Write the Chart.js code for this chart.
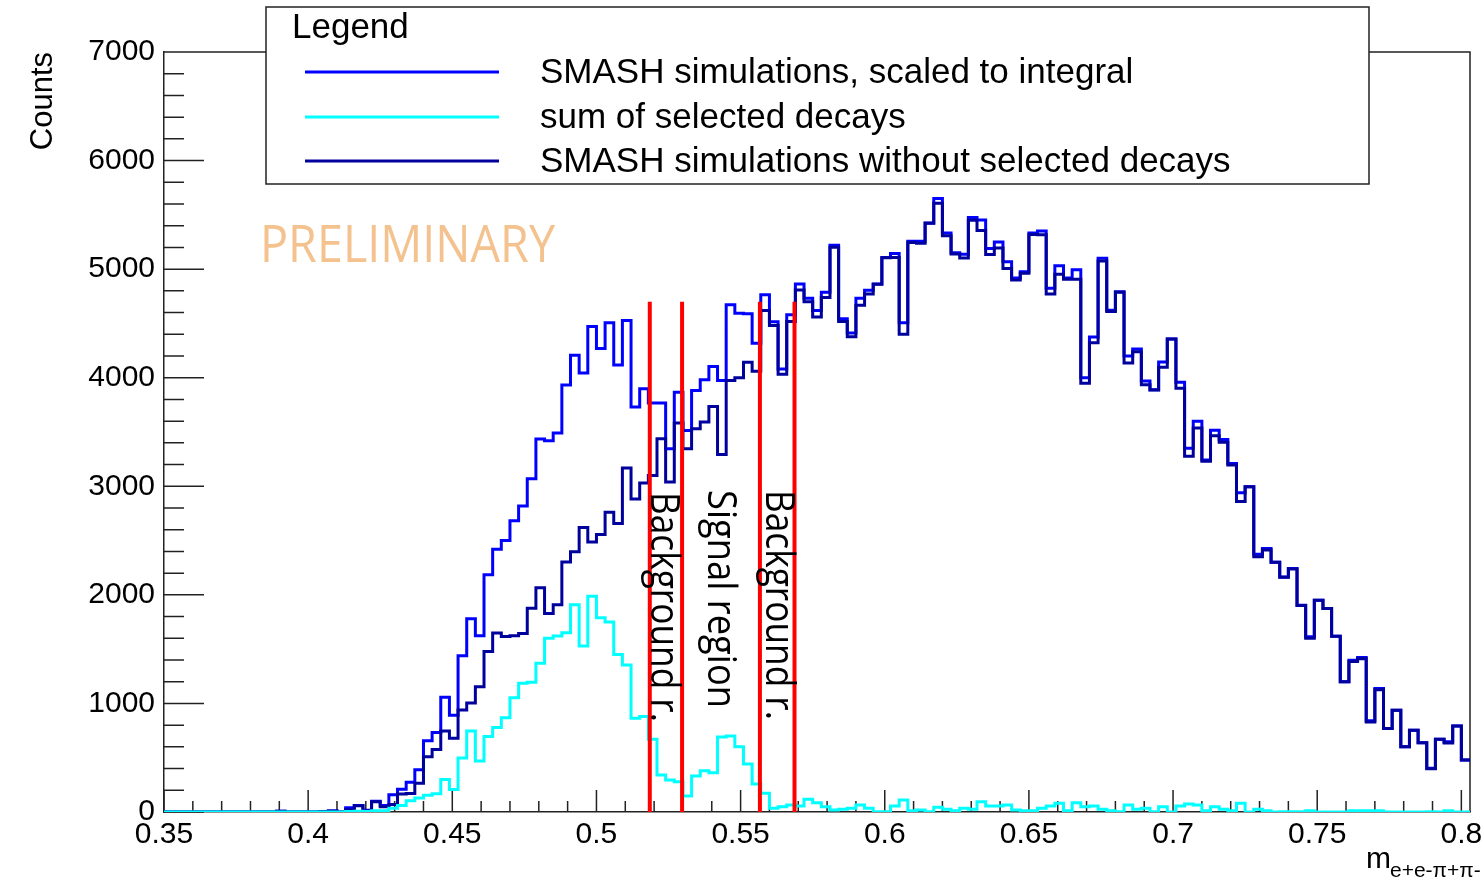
<!DOCTYPE html>
<html>
<head>
<meta charset="utf-8">
<title>SMASH invariant mass e+e-pi+pi-</title>
<script src="https://cdn.jsdelivr.net/npm/chart.js@4.4.0/dist/chart.umd.min.js"></script>
<style>
  html, body { margin: 0; padding: 0; background: #fff; }
  canvas { display: block; }
</style>
</head>
<body>
<canvas id="mass-hist" width="1482" height="879"></canvas>
<script>
// binning of the histogram: 151 bins of 0.003 from 0.35
const binLow = 0.35;
const binWidth = 0.003;

// SMASH simulations, scaled to integral
const smashScaled = [
  0, 0, 0, 0, 0, 0, 0, 0, 0, 0,
  0, 0, 0, 8, 0, 0, 0, 0, 5, 9,
  0, 40, 60, 15, 100, 60, 160, 210, 275, 388,
  657, 733, 1056, 890, 1439, 1781, 1623, 2186, 2420, 2500,
  2683, 2819, 3069, 3436, 3420, 3490, 3933, 4208, 4044, 4471,
  4268, 4507, 4118, 4527, 3731, 3898, 3766, 3766, 3346, 3867,
  3514, 3882, 3981, 4103, 3974, 4673, 4594, 4588, 4318, 4765,
  4515, 4080, 4581, 4863, 4731, 4619, 4788, 5219, 4543, 4412,
  4731, 4806, 4863, 5107, 5144, 4506, 5257, 5257, 5426, 5651,
  5332, 5152, 5137, 5475, 5452, 5189, 5249, 5069, 4919, 4975,
  5332, 5351, 4825, 5032, 4919, 4994, 3999, 4376, 5100, 4621,
  4791, 4200, 4264, 3970, 3890, 4145, 4356, 3958, 3350, 3600,
  3243, 3515, 3430, 3209, 2940, 2995, 2375, 2426, 2300, 2165,
  2242, 1904, 1613, 1950, 1874, 1619, 1199, 1398, 1423, 840,
  1138, 770, 938, 601, 754, 638, 402, 669, 647, 791,
  478
];

// sum of selected decays
const selectedDecays = [
  0, 0, 0, 0, 0, 0, 0, 0, 0, 0,
  0, 0, 0, 0, 0, 0, 0, 0, 0, 0,
  0, 5, 8, 5, 12, 12, 34, 60, 104, 130,
  154, 167, 300, 208, 497, 746, 469, 695, 778, 868,
  1053, 1185, 1196, 1370, 1600, 1620, 1650, 1908, 1528, 1987,
  1790, 1750, 1450, 1354, 864, 880, 670, 340, 294, 279,
  147, 331, 380, 362, 690, 700, 600, 441, 257, 172,
  34, 49, 64, 55, 117, 86, 49, 18, 25, 34,
  64, 34, 3, 3, 55, 110, 12, 18, 3, 43,
  25, 12, 34, 25, 95, 55, 55, 64, 18, 12,
  12, 34, 55, 80, 12, 86, 49, 55, 25, 12,
  3, 64, 25, 34, 3, 49, 0, 55, 74, 64,
  12, 49, 25, 12, 80, 0, 25, 12, 0, 3,
  3, 3, 12, 0, 0, 0, 0, 12, 12, 12,
  12, 0, 0, 0, 0, 0, 3, 0, 12, 0,
  0
];

// SMASH simulations without selected decays
const smashWithout = [
  0, 0, 0, 0, 0, 0, 0, 0, 0, 0,
  0, 0, 0, 8, 0, 0, 0, 0, 5, 9,
  0, 20, 58, 10, 95, 49, 70, 165, 170, 265,
  510, 575, 746, 680, 940, 1003, 1154, 1478, 1648, 1617,
  1623, 1645, 1876, 2066, 1829, 1908, 2303, 2398, 2620, 2487,
  2557, 2762, 2658, 3168, 2884, 3030, 3100, 3438, 3039, 3582,
  3346, 3529, 3591, 3735, 3293, 3974, 3999, 4143, 4060, 4620,
  4481, 4031, 4517, 4808, 4700, 4560, 4739, 5201, 4518, 4378,
  4667, 4772, 4860, 5104, 5107, 4400, 5245, 5239, 5423, 5608,
  5307, 5140, 5103, 5450, 5357, 5134, 5194, 5005, 4901, 4963,
  5320, 5317, 4770, 4952, 4907, 4908, 3950, 4321, 5075, 4609,
  4788, 4136, 4239, 3936, 3887, 4096, 4356, 3903, 3276, 3536,
  3231, 3466, 3405, 3197, 2860, 2995, 2350, 2414, 2300, 2162,
  2239, 1901, 1601, 1950, 1874, 1619, 1199, 1386, 1411, 828,
  1126, 770, 938, 601, 754, 638, 399, 669, 635, 791,
  478
];

// region borders (red lines) and their labels
const regionEdges = [0.5185, 0.5297, 0.5567, 0.5687];
const regionTop = 4700;
const regionLabels = ['Background r.', 'Signal region', 'Background r.'];

const xTickLabels = [0.35, 0.4, 0.45, 0.5, 0.55, 0.6, 0.65, 0.7, 0.75, 0.8];
const yTickLabels = [0, 1000, 2000, 3000, 4000, 5000, 6000, 7000];

const rootFont = '"Liberation Sans", Arial, sans-serif';
const slideFont = '"Open Sans", Lato, sans-serif';

// turn bin contents into step points at the bin low edges (+ closing point)
const toSteps = (values) => {
  const pts = values.map((v, i) => ({ x: binLow + i * binWidth, y: v }));
  pts.push({ x: binLow + values.length * binWidth, y: values[values.length - 1] });
  return pts;
};

const histDataset = (label, values, color, order) => ({
  label: label,
  data: toSteps(values),
  borderColor: color,
  backgroundColor: color,
  borderWidth: 3,
  stepped: 'before',
  pointRadius: 0,
  fill: false,
  order: order
});

const regionDatasets = regionEdges.map((x) => ({
  label: 'region',
  data: [{ x: x, y: 0 }, { x: x, y: regionTop }],
  borderColor: '#ff0000',
  borderWidth: 4,
  pointRadius: 0,
  fill: false,
  order: 0
}));

const histDatasets = [
  histDataset('SMASH simulations, scaled to integral', smashScaled, '#0000ff', 3),
  histDataset('sum of selected decays', selectedDecays, '#00ffff', 1),
  histDataset('SMASH simulations without selected decays', smashWithout, '#00009c', 2)
];

// draw text squeezed to a given length (slide fonts are narrower)
const fitText = (ctx, text, x, y, length, angle) => {
  ctx.save();
  ctx.translate(x, y);
  ctx.rotate(angle);
  const w = ctx.measureText(text).width;
  ctx.scale(length / w, 1);
  ctx.fillText(text, 0, 0);
  ctx.restore();
};

// ROOT style frame, inward ticks, legend box and annotations
const rootFrame = {
  id: 'rootFrame',
  beforeDatasetsDraw(chart) {
    const { ctx, chartArea: a, scales: { x, y } } = chart;
    ctx.save();
    ctx.strokeStyle = '#222';
    ctx.lineWidth = 1.5;
    ctx.beginPath();
    ctx.moveTo(a.left, a.top);
    ctx.lineTo(a.right, a.top);
    ctx.lineTo(a.right, a.bottom);
    for (let v = 0; v <= 7000; v += 200) {
      const py = y.getPixelForValue(v);
      const len = v % 1000 === 0 ? 40 : 20;
      ctx.moveTo(a.left, py);
      ctx.lineTo(a.left + len, py);
    }
    for (let i = 0; i <= 45; i++) {
      const px = x.getPixelForValue(0.35 + i * 0.01);
      const len = i % 5 === 0 ? 22 : 11;
      ctx.moveTo(px, a.bottom);
      ctx.lineTo(px, a.bottom - len);
    }
    ctx.stroke();
    ctx.restore();
  },
  afterDraw(chart) {
    const { ctx } = chart;
    ctx.save();

    // legend
    ctx.fillStyle = '#fff';
    ctx.fillRect(266, 7, 1103, 177);
    ctx.strokeStyle = '#222';
    ctx.lineWidth = 1.5;
    ctx.strokeRect(266, 7, 1103, 177);
    ctx.fillStyle = '#000';
    ctx.font = '35px ' + rootFont;
    ctx.textBaseline = 'alphabetic';
    ctx.fillText('Legend', 292, 38);
    const rows = [72, 117, 161];
    histDatasets.forEach((ds, i) => {
      ctx.strokeStyle = ds.borderColor;
      ctx.lineWidth = 3;
      ctx.beginPath();
      ctx.moveTo(305, rows[i]);
      ctx.lineTo(499, rows[i]);
      ctx.stroke();
      ctx.textBaseline = 'middle';
      ctx.fillText(ds.label, 540, rows[i] + 1);
    });

    // axis titles
    ctx.textBaseline = 'alphabetic';
    ctx.font = '31px ' + rootFont;
    ctx.save();
    ctx.translate(52, 52);
    ctx.rotate(-Math.PI / 2);
    ctx.textAlign = 'right';
    ctx.fillText('Counts', 0, 0);
    ctx.restore();
    ctx.textAlign = 'left';
    ctx.font = '30px ' + rootFont;
    ctx.fillText('m', 1366, 868);
    ctx.font = '21px ' + rootFont;
    ctx.fillText('e+e-\u03c0+\u03c0-', 1390, 877);

    // PRELIMINARY stamp
    ctx.fillStyle = '#f4c28e';
    ctx.font = '52px ' + slideFont;
    fitText(ctx, 'PRELIMINARY', 260, 262, 295, 0);

    // vertical region labels
    ctx.fillStyle = '#000';
    ctx.font = '40px ' + slideFont;
    const labelPos = [[651, 492, 230], [708, 490, 218], [766, 490, 230]];
    regionLabels.forEach((t, i) => {
      const [bx, by, len] = labelPos[i];
      fitText(ctx, t, bx, by, len, Math.PI / 2);
    });
    ctx.restore();
  }
};

const chart = new Chart(document.getElementById('mass-hist'), {
  type: 'line',
  data: { datasets: [...regionDatasets, ...histDatasets] },
  options: {
    responsive: false,
    animation: false,
    devicePixelRatio: 1,
    layout: { padding: { top: 52, right: 12, left: 0, bottom: 0 } },
    plugins: {
      legend: { display: false },
      tooltip: { enabled: false }
    },
    elements: { line: { tension: 0 } },
    scales: {
      x: {
        type: 'linear',
        min: 0.35,
        max: 0.803,
        grid: { display: false, tickLength: 0 },
        border: { display: true, color: '#222', width: 1.5 },
        afterBuildTicks: (scale) => {
          scale.ticks = xTickLabels.map((v) => ({ value: v }));
        },
        afterFit: (scale) => {
          scale.height = 67;
          scale.paddingLeft = 0;
          scale.paddingRight = 0;
        },
        ticks: {
          font: { family: rootFont, size: 30 },
          color: '#000',
          padding: 5,
          maxRotation: 0,
          autoSkip: false,
          callback: (v) => String(+Number(v).toFixed(2))
        }
      },
      y: {
        type: 'linear',
        min: 0,
        max: 7000,
        grid: { display: false, tickLength: 0 },
        border: { display: true, color: '#222', width: 1.5 },
        afterBuildTicks: (scale) => {
          scale.ticks = yTickLabels.map((v) => ({ value: v }));
        },
        afterFit: (scale) => {
          scale.width = 164;
          scale.paddingTop = 0;
          scale.paddingBottom = 0;
        },
        ticks: {
          font: { family: rootFont, size: 30 },
          color: '#000',
          padding: 9,
          callback: (v) => String(v)
        }
      }
    }
  },
  plugins: [rootFrame]
});
</script>
</body>
</html>
